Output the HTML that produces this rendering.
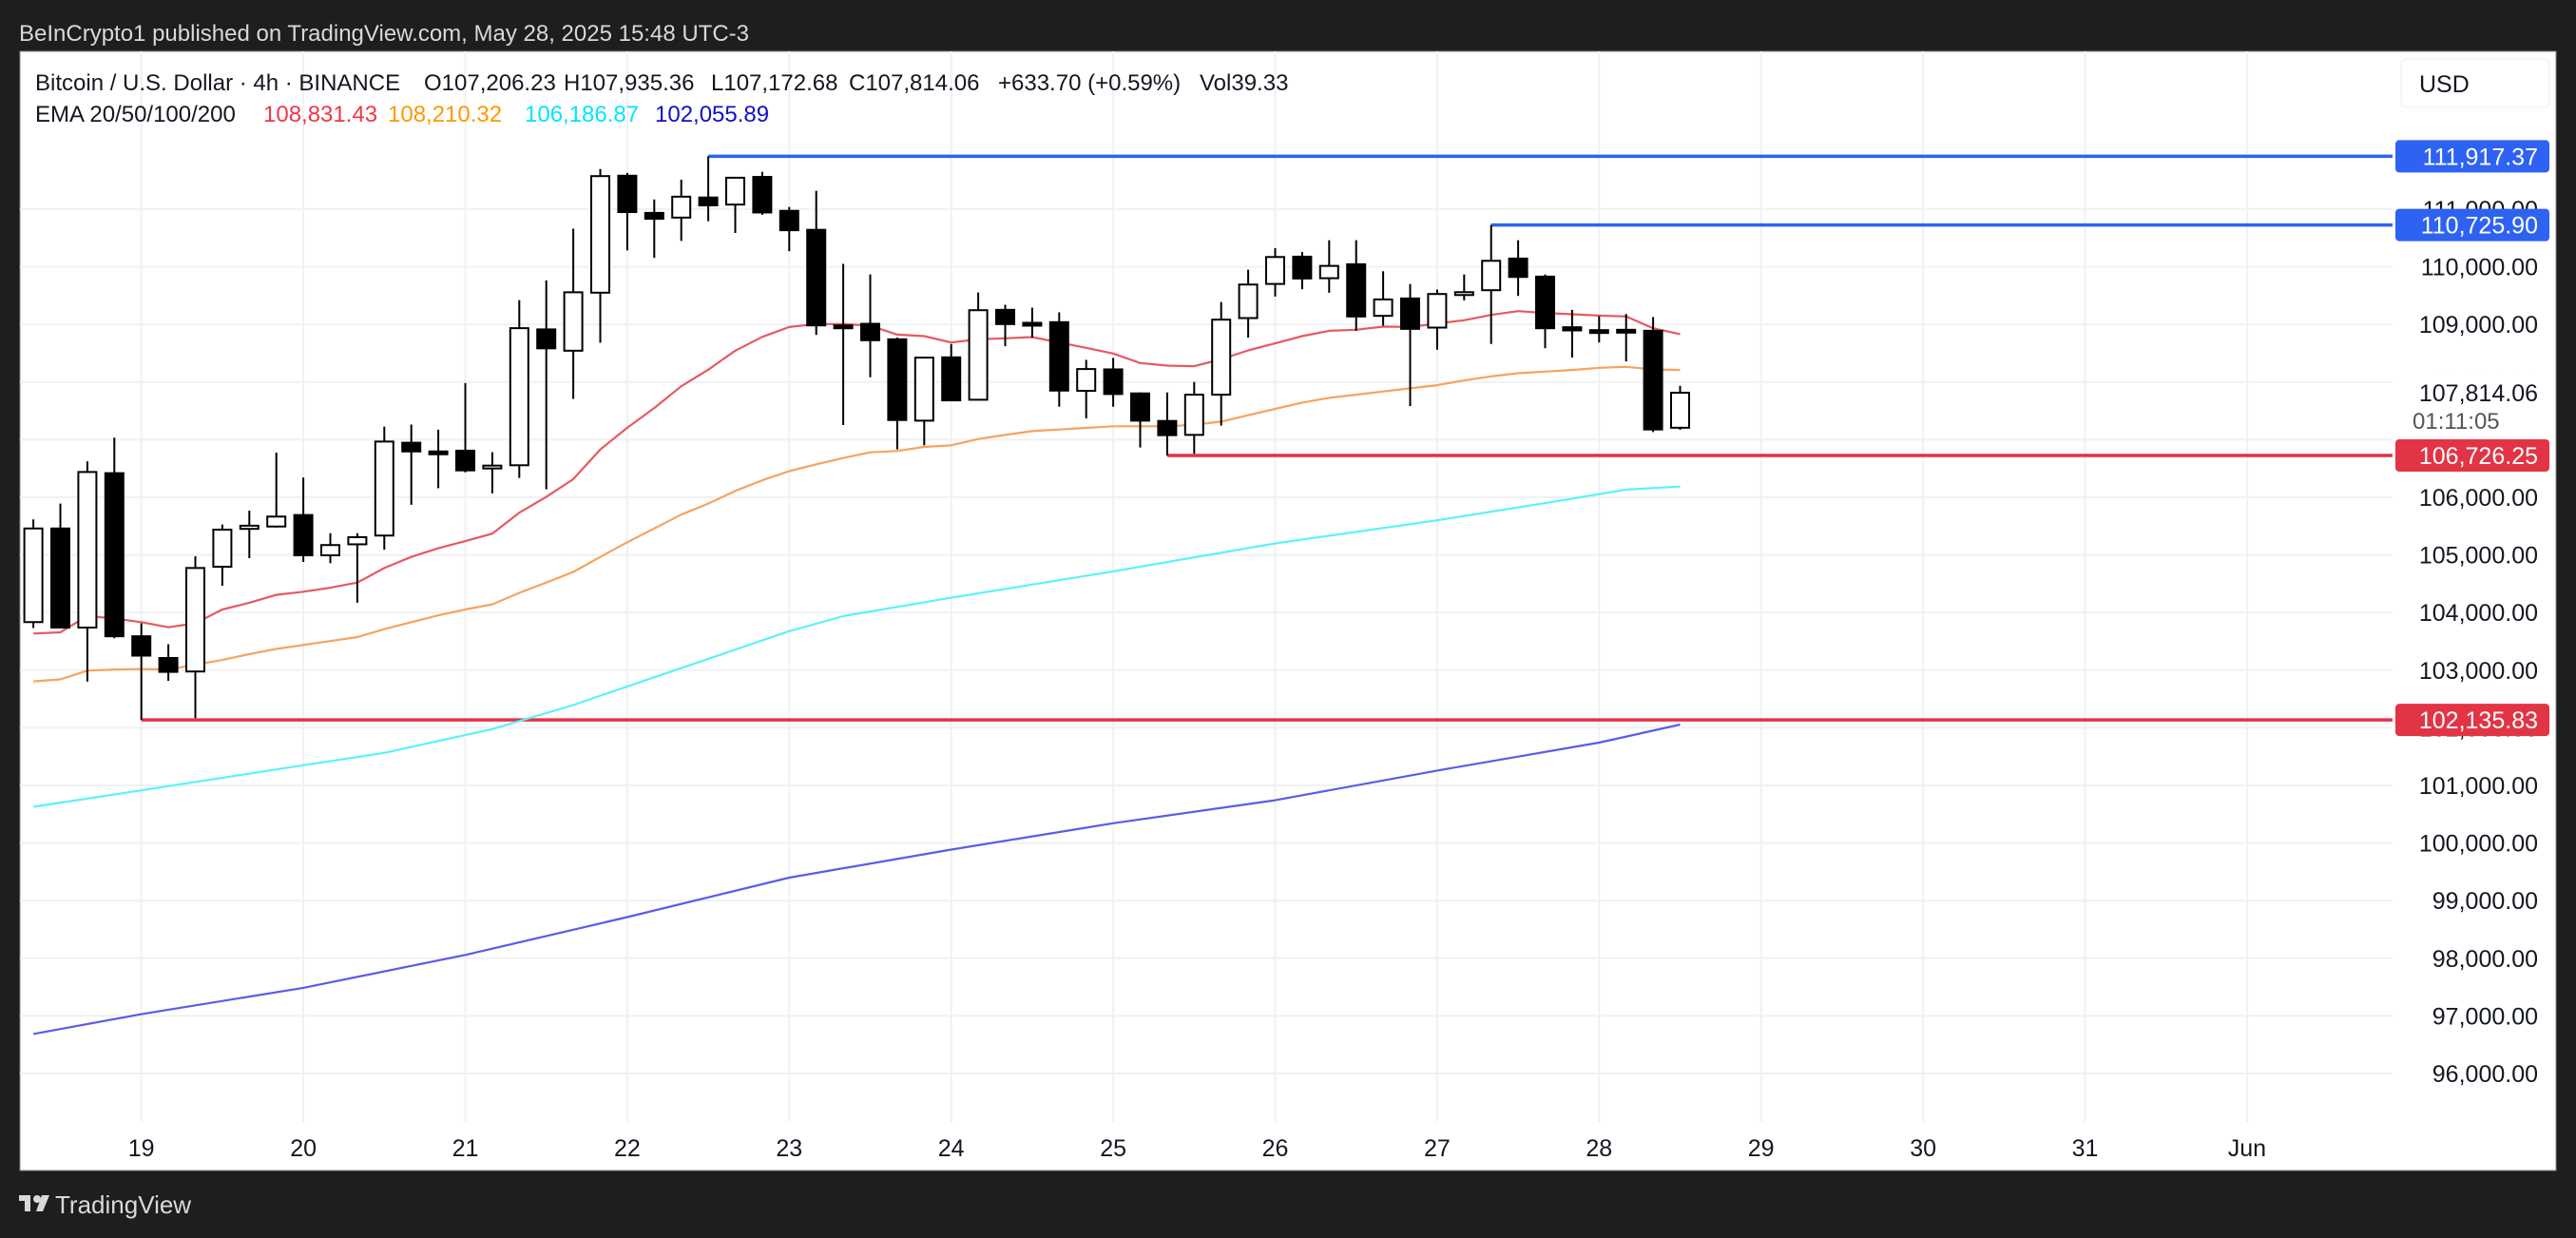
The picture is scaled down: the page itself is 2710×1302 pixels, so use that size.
<!DOCTYPE html>
<html><head><meta charset="utf-8"><style>
html,body{margin:0;padding:0;background:#1e1e1e;}
svg{display:block;font-family:"Liberation Sans",sans-serif;}
</style></head><body>
<svg id="chart" width="2710" height="1302" viewBox="0 0 2710 1302" xmlns="http://www.w3.org/2000/svg">
<rect x="0" y="0" width="2710" height="1302" fill="#1e1e1e"/>
<text x="20" y="43" font-size="24" fill="#d9d9d9">BeInCrypto1 published on TradingView.com, May 28, 2025 15:48 UTC-3</text>
<rect x="21" y="54" width="2668" height="1177" fill="#ffffff" stroke="#8a8a8a" stroke-width="1"/>
<g id="grid"></g>
<g id="levels"></g>
<g id="emas"></g>
<g id="candles"></g>
<g id="axis"></g>
<g id="xaxis"></g>
<text x="37" y="95" font-size="24" fill="#131722">Bitcoin / U.S. Dollar · 4h · BINANCE</text>
<text x="446" y="95" font-size="24" fill="#131722">O107,206.23</text>
<text x="593" y="95" font-size="24" fill="#131722">H107,935.36</text>
<text x="748" y="95" font-size="24" fill="#131722">L107,172.68</text>
<text x="893" y="95" font-size="24" fill="#131722">C107,814.06</text>
<text x="1050" y="95" font-size="24" fill="#131722">+633.70 (+0.59%)</text>
<text x="1262" y="95" font-size="24" fill="#131722">Vol39.33</text>
<text x="37" y="128" font-size="24" fill="#131722">EMA 20/50/100/200</text>
<text x="277" y="128" font-size="24" fill="#f23645">108,831.43</text>
<text x="408" y="128" font-size="24" fill="#ff9800">108,210.32</text>
<text x="552" y="128" font-size="24" fill="#00e5ff">106,186.87</text>
<text x="689" y="128" font-size="24" fill="#1010c8">102,055.89</text>
<rect x="2526" y="62" width="156" height="51" rx="6" fill="#fff" stroke="#eeeeee"/>
<text x="2545" y="97" font-size="25" fill="#131722">USD</text>
<g>
<rect x="20" y="1257" width="12" height="6" fill="#d9d9d9"/><rect x="26" y="1257" width="6" height="17" fill="#d9d9d9"/>
<circle cx="39" cy="1261" r="4" fill="#d9d9d9"/><polygon points="44,1257 52,1257 45,1274 38,1274" fill="#d9d9d9"/>
<text x="58" y="1276" font-size="26" fill="#d9d9d9">TradingView</text>
</g>
</svg>
<script>
// ---- data ----
const priceTicks = [96000,97000,98000,99000,100000,101000,102000,103000,104000,105000,106000,107000,108000,109000,110000,111000];
const dayLabels = ["19","20","21","22","23","24","25","26","27","28","29","30","31","Jun"];
const candleOpen  = [103834,105459,103739,106419,103588,103211,102977,104794,105452,105493,105692,104993,105184,105336,106947,106796,106809,106542,106556,108914,108544,109551,111581,110936,110854,111203,111080,111560,110971,110642,108983,109011,108742,107330,108429,107693,109253,109028,109039,107847,108220,107803,107325,107083,107781,109110,109703,110176,109802,110044,109149,109451,108945,109550,109594,110143,109830,108951,108901,108907,108890,107207];
const candleHigh  = [105617,105891,106624,107036,103813,103450,104977,105527,105768,106775,106343,105377,105377,107228,107262,107173,107982,106782,109421,109764,110662,111697,111629,111169,111512,111917,111560,111649,111039,111320,110052,109868,108770,108424,108660,109555,109341,109291,109209,108385,108418,107819,107819,108000,109390,109951,110324,110258,110461,110461,109923,109703,109605,109868,110726,110461,109868,109253,109143,109181,109127,107935];
const candleLow   = [103732,103725,102800,103553,102136,102814,102168,104465,104944,105473,104877,104856,104170,105090,105870,106158,106433,106069,106336,106138,107708,108681,110285,110155,110449,110792,110587,110902,110271,108818,107255,108083,106831,106902,107671,107693,108621,108770,107572,107369,107572,106864,106726,106754,107243,108770,109484,109610,109550,108890,108978,107583,108561,109418,108660,109495,108588,108424,108687,108357,107133,107172];
const candleClose = [105459,103739,106439,103588,103252,102970,104773,105438,105507,105665,104993,105171,105308,106967,106796,106789,106467,106550,108935,108585,109558,111574,110950,110833,111217,111066,111546,110943,110635,108983,108970,108726,107341,108424,107682,109247,109006,109017,107852,108226,107792,107330,107078,107781,109083,109692,110170,109797,110016,109138,109434,108923,109528,109560,110104,109824,108934,108896,108900,108874,107177,107814];
const firstCandle = -4; // candle index of first bar (4h bars, 0 = day 19 00:00)
const ema20 = [103636,103657,103940,103896,103834,103745,103813,104053,104170,104307,104362,104431,104520,104773,104965,105116,105240,105370,105733,106007,106316,106830,107207,107550,107927,108215,108544,108784,108955,109006,109006,108978,108824,108797,108687,108742,108759,108781,108687,108594,108495,108330,108286,108275,108396,108550,108671,108797,108890,108907,108962,108956,109017,109072,109165,109231,109198,109176,109154,109138,108934,108831];
const ema50 = [102806,102840,102991,103012,103019,103012,103094,103176,103279,103368,103437,103505,103574,103711,103834,103951,104053,104142,104341,104520,104705,104965,105219,105459,105699,105891,106110,106295,106453,106572,106682,106781,106803,106875,106902,107012,107083,107149,107177,107204,107232,107232,107232,107259,107314,107424,107534,107643,107726,107781,107836,107891,107946,108028,108099,108154,108182,108209,108248,108264,108220,108210];
const ema100Idx = [-4,0,6,9,13,16,18,21,24,26,30,36,42,48,52,55,57];
const ema100 = [100629,100914,101350,101565,101977,102395,102717,103196,103677,103937,104257,104714,105200,105600,105900,106133,106187];
const ema200Idx = [-4,0,6,12,18,24,30,36,42,48,54,57];
const ema200 = [96686,97029,97486,98057,98714,99400,99886,100343,100743,101257,101743,102056];
const levelPrices = [111917.37,110725.90,106726.25,102135.83];
const levelLabels = ["111,917.37","110,725.90","106,726.25","102,135.83"];
const levelStart = [21,50,38,0];
const lastPrice = 107814.06;
const lastPriceLabel = "107,814.06";

// ---- scales ----
const NS="http://www.w3.org/2000/svg";
const PLOT_L=21, PLOT_R=2517, PLOT_T=54, PLOT_B=1180;
function y(p){return 220 + (111000-p)*0.0606;}
function xk(k){return 148.7 + k*28.4;}
function xd(d){return 148.7 + d*170.4;}
function mk(tag,attrs,parent){const e=document.createElementNS(NS,tag);for(const a in attrs)e.setAttribute(a,attrs[a]);parent.appendChild(e);return e;}
const fmt=p=>p.toLocaleString('en-US',{minimumFractionDigits:2,maximumFractionDigits:2});

const grid=document.getElementById('grid');
priceTicks.forEach(p=>{const l=mk('line',{x1:PLOT_L,x2:PLOT_R,y1:y(p),y2:y(p),stroke:'#f0f1f3','stroke-width':2},grid);

});
dayLabels.forEach((d,i)=>{const l=mk('line',{x1:xd(i),x2:xd(i),y1:PLOT_T,y2:PLOT_B,stroke:'#f0f1f3','stroke-width':2},grid);

});

const emas=document.getElementById('emas');
function poly(idx,vals,color,name){
  const pts=vals.map((v,i)=>xk(idx[i]).toFixed(1)+','+y(v).toFixed(1)).join(' ');
  const pl=mk('polyline',{points:pts,fill:'none',stroke:color,'stroke-width':2.2,'stroke-linejoin':'round'},emas);
  
  
}
const seqIdx=ema20.map((_,i)=>firstCandle+i);
poly(ema200Idx,ema200,'#5b5be8','ema200-line');
poly(ema100Idx,ema100,'#5cf1fb','ema100-line');
poly(seqIdx,ema50,'#f6a35e','ema50-line');
poly(seqIdx,ema20,'#e65a60','ema20-line');

const lv=document.getElementById('levels');
levelPrices.forEach((p,i)=>{const c=p>107500?'#2e62f2':'#e23444';
  const l=mk('line',{x1:xk(levelStart[i]),x2:PLOT_R,y1:y(p),y2:y(p),stroke:c,'stroke-width':3.5},lv);
  
  });

const cg=document.getElementById('candles');
candleOpen.forEach((o,i)=>{
  const k=firstCandle+i, cx=xk(k), c=candleClose[i], up=c>=o;
  const g=mk('g',{},cg);
  
  
  mk('line',{x1:cx,x2:cx,y1:y(candleHigh[i]),y2:y(candleLow[i]),stroke:'#000','stroke-width':2},g);
  const top=y(Math.max(o,c)), h=Math.max(y(Math.min(o,c))-top,3);
  mk('rect',{x:cx-9.5,y:top,width:19,height:h,fill:up?'#fff':'#000',stroke:'#000','stroke-width':2},g);
});

const ax=document.getElementById('axis');
priceTicks.forEach(p=>{const t=mk('text',{x:2670,y:y(p)+9,'font-size':25,fill:'#131722','text-anchor':'end'},ax);t.textContent=fmt(p);

});
// current price label (covers the 108,000 / 107,000 ticks)
const cpTop=y(lastPrice)-20, cpBot=y(levelPrices[2])-17;
const cp=mk('rect',{x:2520,y:cpTop,width:162,height:cpBot-cpTop,fill:'#fff'},ax);


const cpt=mk('text',{x:2670,y:y(lastPrice)+9,'font-size':25,fill:'#131722','text-anchor':'end'},ax);cpt.textContent=lastPriceLabel;


const cd=mk('text',{x:2538,y:y(lastPrice)+38,'font-size':24,fill:'#555'},ax);cd.textContent='01:11:05';


levelPrices.forEach((p,i)=>{const c=p>107500?'#2e62f2':'#e23444';
  const r=mk('rect',{x:2520,y:y(p)-17,width:162,height:34,rx:4,fill:c},ax);
  
  
  const t=mk('text',{x:2670,y:y(p)+9,'font-size':25,fill:'#fff','text-anchor':'end'},ax);t.textContent=levelLabels[i];
  
  });

const xa=document.getElementById('xaxis');
dayLabels.forEach((d,i)=>{const t=mk('text',{x:xd(i),y:1216,'font-size':25,fill:'#131722','text-anchor':'middle'},xa);t.textContent=d;

});
</script>
</body></html>
